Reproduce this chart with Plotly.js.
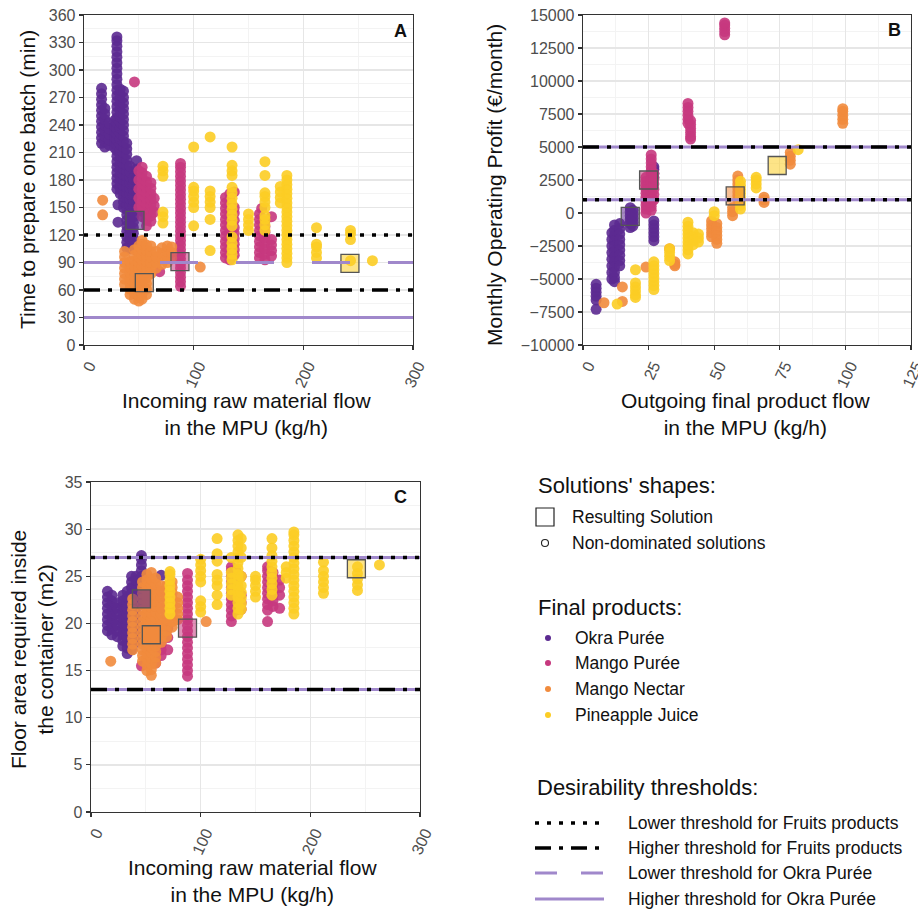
<!DOCTYPE html>
<html><head><meta charset="utf-8">
<script src="https://cdn.plot.ly/plotly-3.0.1.min.js"></script>
<style>html,body{margin:0;padding:0;background:#fff}#chart{width:918px;height:912px}</style>
</head><body><div id="chart"></div>
<script>
// ---------------- DATA ----------------
// Each product is stored as columns of solutions: one x value and the y values read along it.
const products = ["Okra Purée", "Mango Purée", "Mango Nectar", "Pineapple Juice"];

// Panel A: incoming raw material flow (kg/h) vs time to prepare one batch (min)
const okraA_x = [16, 19, 23, 28, 30, 31, 33, 36, 39, 42, 45, 48];
const okraA_y = [
  [220,226,232,238,244,250,256,262,268,274,280],
  [216,222,228,234,240,246,252,258],
  [218,224,230,236,242],
  [215,221,227,233,239,245],
  [170,176,182,188,194,200,206,212,218,224,230,236,242,248,254,260,266,272,278,284,290,296,302,308,314,320,326,332,336],
  [134,153],
  [165,171,177,183,189,195,201,207,213,219,225,231,237,243,249,255,261,267,273,279],
  [150,156,162,168,174,180,186,192,198,204,210,216,222,228,234,240,246,252,258,264,270,277],
  [106,112,118,124,130,136,142,148,154,160,166,172,178,184,190,196,202,208,214,220],
  [105,111,117,123,129,135,141,147,153,159,165,171,177,183,189,195],
  [110,116,122,128,134,140,146,152,158,164,170,176,182],
  [150,156,162,168,174,180,186,192,201]];

const pureeA_x = [46, 50, 53, 57, 61, 64, 69, 88, 129, 133, 137, 160, 162, 165, 171];
const pureeA_y = [
  [287],
  [150,160,170,180,190],
  [140,146,152,158,164,170,176,182,188,194],
  [130,136,142,148,154,160,166,172,178,184],
  [135,141,147,153,159,165,171,177],
  [145,152,160],
  [80],
  [64,69,74,79,84,89,94,99,104,109,114,119,124,129,134,139,144,149,154,159,164,169,174,179,184,189,194,198],
  [95,101,107,113,119,125,131,137,143,149,155,161],
  [93,99,105,111,117,123,129,135,141,147,153,159,165],
  [98,104,110,116,122,128,136,144,150,167],
  [95,101,107,113,119,125,131,137,143],
  [149],
  [93,99,105,111,117,123,129,135],
  [97,103,109,115,140]];

const nectarA_x = [17, 37, 42, 46, 50, 53, 57, 61, 66, 71, 76, 80, 106];
const nectarA_y = [
  [142,158],
  [66,72,78,84,90,96,102],
  [55,61,67,73,79,85,91],
  [50,56,62,68,74,80,86,92,98,104],
  [48,54,60,66,72,78,84,90,96,102,108],
  [50,56,62,68,74,80,86,92,98,104,110,114],
  [55,61,67,73,79,85,91,97,103,109],
  [78,84,90,96,102,108],
  [84,90,96,102],
  [88,94,100,106],
  [90,96,102,108],
  [95,101,107],
  [85]];

const pineA_x = [72, 100, 115, 135, 150, 165, 179, 185, 212, 243, 263];
const pineA_y = [
  [133,140,145,184,190,195],
  [130,150,156,162,168,172,216],
  [103,137,150,156,162,168,227],
  [93,99,105,111,118,130,136,142,148,154,160,166,172,185,190,196,216],
  [125,131,137,143],
  [125,131,137,141,150,156,162,166,185,200],
  [155,161,167,173],
  [90,95,100,105,110,115,120,125,130,135,140,145,150,155,160,165,170,175,180,185],
  [95,101,107,110,128],
  [92,115,121,125],
  [92]];

// Panel B: outgoing final product flow (kg/h) vs monthly operating profit (€/month)
const okraB_x = [5, 11, 12, 14, 18, 19, 27];
const okraB_y = [
  [-5400,-5700,-6000,-6300,-6600,-7300],
  [-1500,-2000,-2500,-3000,-3500,-4000,-4500,-5000],
  [-900,-1300,-1700,-2100,-2500,-2900,-3300,-3700,-4100,-4500,-4900,-5200],
  [-800,-1200,-1600,-2000,-2400,-2800,-3200,-3600,-4000],
  [400,100,-200,-500,-800,-1100],
  [200,-100,-400,-700,-1000],
  [-600,-900,-1200,-1500,-1800,-2100,2700,3000,3300,3500]];

const pureeB_x = [24, 26, 27, 40, 41, 54];
const pureeB_y = [
  [0,300,600,900,1200,1500,1800,2100,2400,2700],
  [200,500,800,1100,1400,1700,2000,2300,2600,2900,3200,3500,3800,4100,4400],
  [1000,1400,1800,2200,2600,3000],
  [8300,8000,7700,7400,7100,6800],
  [7000,6700,6400,6100,5800,5600],
  [13500,13750,14000,14250,14400]];

const nectarB_x = [8, 15, 24, 33, 35, 49, 51, 57, 59, 69, 79, 99];
const nectarB_y = [
  [-6800],
  [-6700,-5600],
  [-4100],
  [-2700],
  [-3700,-3900,-4000],
  [-600,-900,-1200,-1500,-1800],
  [-800,-1100,-1400,-1700,-2000,-2300],
  [-200,100,400],
  [1000,1300,1600,1900,2200,2500,2800],
  [800,1000,1200],
  [3700,4000,4300,4600],
  [6800,7100,7400,7700,7900]];

const pineB_x = [13, 20, 27, 33, 40, 42, 44, 50, 60, 66, 82];
const pineB_y = [
  [-6900],
  [-4300,-5300,-5600,-5900,-6200,-6400],
  [-3700,-4000,-4300,-4600,-4900,-5200,-5500,-5800],
  [-2700,-3000,-3300,-3600],
  [-700,-1000,-1300,-1600,-1900,-2200,-2500,-2800,-3100],
  [-1500,-1800,-2100,-2400],
  [-1600,-1900,-2200],
  [100,-200],
  [300,600,900,1200,1500,1800,2100,2400],
  [1900,2200,2500,2700],
  [4800]];

// Panel C: incoming raw material flow (kg/h) vs floor area required (m2)
const okraC_x = [15, 19, 24, 29, 33, 37, 41, 46, 64];
const okraC_y = [
  [19.2,19.8,20.4,21,21.6,22.2,22.8,23.4],
  [18.8,19.4,20,20.6,21.2,21.8,22.4,23],
  [18.6,19.2,19.8,20.4,21,21.6,22.2],
  [17.6,18.2,18.8,19.4,20,20.6,21.2,21.8,22.4,23],
  [16.8,17.4,18,18.6,19.2,19.8,20.4,21,21.6,22.2,22.8,23.4],
  [17.2,17.8,18.4,19,19.6,20.2,20.8,21.4,22,22.6,23.2,23.8,24.4,25],
  [18,18.6,19.2,19.8,20.4,21,21.6,22.2,22.8,23.4,24,24.6,25],
  [22,22.6,23.2,23.8,24.4,25,25.6,26.2,26.8,27.2],
  [25.1]];

const pureeC_x = [46, 59, 64, 70, 88, 128, 132, 137, 161, 166, 172];
const pureeC_y = [
  [15.5],
  [15.8,16.4,17,17.6,18.2,18.8,19.4,20],
  [16.6,17.2,17.8,18.4,19],
  [17.2,18.5,19.5],
  [14.4,15,15.6,16.2,16.8,17.4,18,18.6,19.2,19.8,20.4,21,21.6,22.2,22.8,23.4,24,24.6,25.3],
  [20.2,20.8,21.4,22,22.6,23.2,23.8,24.4,25,25.6,26],
  [21.4,22,22.6,23.2,23.8,24.4,25,25.6],
  [21.5,22.2,23,25],
  [20.2,21.4,22,22.6,23.2,23.8,24.4,25,25.6,26],
  [21.8,22.4,23,23.6,24.2,24.8,25.4],
  [21.6,23,23.8,24.6]];

const nectarC_x = [18, 38, 47, 51, 55, 59, 64, 69, 74, 79, 105];
const nectarC_y = [
  [16],
  [17.2,17.8,18.4,19,19.6,20.2,20.8,21.4,22,22.6],
  [16,16.6,17.2,17.8,18.4,19,19.6,20.2,20.8,21.4,22,22.6,23.2,23.8,24.4],
  [15,15.6,16.2,16.8,17.4,18,18.6,19.2,19.8,20.4,21,21.6,22.2,22.8,23.4,24,24.6,25.2],
  [14.5,15.1,15.7,16.3,16.9,17.5,18.1,18.7,19.3,19.9,20.5,21.1,21.7,22.3,22.9,23.5,24.1,24.7,25.4],
  [15.8,16.4,17,17.6,18.2,18.8,19.4,20,20.6,21.2,21.8,22.4,23,23.6,24.2,24.8],
  [18,18.6,19.2,19.8,20.4,21,21.6,22.2,22.8,23.4,24],
  [18.6,19.2,19.8,20.4,21,21.6,22.2,22.8,23.4,24],
  [19.6,20.2,20.8,21.4,22,22.6,23.2,23.8,24.4],
  [20.4,21,21.6,22.2,22.8],
  [20.2]];

const pineC_x = [72, 100, 115, 128, 134, 137, 150, 165, 178, 185, 212, 243, 263];
const pineC_y = [
  [21,21.6,22.2,22.8,23.4,24,24.6,25.2,25.5],
  [21.2,21.8,22.4,24.4,25,25.6,26.2,26.8],
  [22,23,24,24.6,25.2,26.6,27.4,29],
  [23,23.6,24.2,24.8,25.4,27],
  [21,21.6,22.2,22.8,23.4,24,24.6,25.2,25.8,26.4,27,27.6,28.2,28.8,29.4],
  [21.5,22.1,22.7,23.3,24,25,27,28,29],
  [22.8,23.4,24,24.6,25],
  [23,23.6,24.2,24.8,25.4,26,26.6,27.2,28,29],
  [24.8,25.4,26],
  [21,21.6,22.2,22.8,23.4,24,24.6,25.2,25.8,26.4,27,27.6,28.2,28.8,29.4,29.7],
  [23.2,23.8,24.4,25,25.6,26.5],
  [23.5,24.1,24.7,25.3,26],
  [26.2]];

// Resulting solutions (order: Okra Purée, Mango Purée, Mango Nectar, Pineapple Juice)
const resultA_x = [46.5, 87.5, 55, 242.5];
const resultA_y = [136, 91, 68, 89];
const resultB_x = [18, 25, 58, 74];
const resultB_y = [-250, 2500, 1300, 3600];
const resultC_x = [46, 88, 55, 242];
const resultC_y = [22.6, 19.5, 18.8, 25.8];

// Desirability thresholds per panel [A, B, C]
const fruitLow  = [120, 1000, 27];
const fruitHigh = [60, 5000, 13];
const okraLow   = [90, 1000, 27];
const okraHigh  = [30, 5000, 13];

// Tick labels of panel B's profit axis
const profitTicks = [-10000, -7500, -5000, -2500, 0, 2500, 5000, 7500, 10000, 12500, 15000];
const profitTickLabels = ["\u221210000", "\u22127500", "\u22125000", "\u22122500", "0", "2500", "5000", "7500", "10000", "12500", "15000"];

const panelLetters = ["A", "B", "C"];
const thresholdLabels = ["Lower threshold for Fruits products", "Higher threshold for Fruits products",
  "Lower threshold for Okra Purée", "Higher threshold for Okra Purée"];

// ---------------- BUILD ----------------
function flatten(xs, ys) {
  const fx = [], fy = [];
  xs.forEach((x, i) => ys[i].forEach(v => { fx.push(x); fy.push(v); }));
  return [fx, fy];
}

const W = 918, H = 912;
const px = x => x / W, py = y => 1 - y / H;
const FONT = '"Liberation Sans", Arial, Helvetica, sans-serif';
const COLORS = ['#5c2a91', '#c6387e', '#f18b3d', '#fccd25'];
const FILLS = ['rgba(92,42,145,0.55)', 'rgba(198,56,126,0.55)', 'rgba(241,139,61,0.55)', 'rgba(252,205,37,0.55)'];
const PURPLE = '#a088cb';

const panels = [
  {xa: 'x', ya: 'y', data: [flatten(okraA_x, okraA_y), flatten(pureeA_x, pureeA_y), flatten(nectarA_x, nectarA_y), flatten(pineA_x, pineA_y)], rx: resultA_x, ry: resultA_y},
  {xa: 'x2', ya: 'y2', data: [flatten(okraB_x, okraB_y), flatten(pureeB_x, pureeB_y), flatten(nectarB_x, nectarB_y), flatten(pineB_x, pineB_y)], rx: resultB_x, ry: resultB_y},
  {xa: 'x3', ya: 'y3', data: [flatten(okraC_x, okraC_y), flatten(pureeC_x, pureeC_y), flatten(nectarC_x, nectarC_y), flatten(pineC_x, pineC_y)], rx: resultC_x, ry: resultC_y}
];

const traces = [];
panels.forEach(p => {
  p.data.forEach((d, i) => {
    traces.push({type: 'scatter', mode: 'markers', x: d[0], y: d[1], xaxis: p.xa, yaxis: p.ya,
      name: products[i], showlegend: false, hoverinfo: 'skip',
      marker: {color: COLORS[i], size: 11, opacity: 0.9, line: {width: 0}}});
  });
  traces.push({type: 'scatter', mode: 'markers', x: p.rx, y: p.ry, xaxis: p.xa, yaxis: p.ya,
    showlegend: false, hoverinfo: 'skip',
    marker: {symbol: 'square', size: 18, color: FILLS, line: {color: '#555', width: 1.3}}});
});

function axis(extra) {
  return Object.assign({
    showline: true, linecolor: '#333', linewidth: 1.3, mirror: true,
    ticks: 'outside', ticklen: 4, tickwidth: 1.2, tickcolor: '#333',
    showgrid: true, gridcolor: '#e6e6e6', gridwidth: 1.3, zeroline: false,
    tickfont: {family: FONT, size: 16, color: '#4d4d4d'},
    tickformat: 'd', fixedrange: true
  }, extra);
}
function xax(dom, anchor, range, dtick, mdtick) {
  return axis({domain: dom, anchor: anchor, range: range, dtick: dtick, tick0: 0, tickangle: -65,
    ticklabelshift: 5, ticklabeloverflow: 'allow',
    minor: {dtick: mdtick, showgrid: true, gridcolor: '#f3f3f3', gridwidth: 1}});
}
function yax(dom, anchor, range, dtick, mdtick, extra) {
  return axis(Object.assign({domain: dom, anchor: anchor, range: range, dtick: dtick, tick0: 0,
    minor: {dtick: mdtick, showgrid: true, gridcolor: '#f3f3f3', gridwidth: 1}}, extra || {}));
}

const shapes = [];
const yrefs = ['y', 'y2', 'y3'], xrefs = ['x domain', 'x2 domain', 'x3 domain'];
for (let k = 0; k < 3; k++) {
  shapes.push({type: 'line', xref: xrefs[k], yref: yrefs[k], x0: 0, x1: 1, y0: okraHigh[k], y1: okraHigh[k],
    line: {color: PURPLE, width: 3}});
  shapes.push({type: 'line', xref: xrefs[k], yref: yrefs[k], x0: 0, x1: 1, y0: okraLow[k], y1: okraLow[k],
    line: {color: PURPLE, width: 3, dash: k === 0 ? '38px,38px' : 'solid'}});
  shapes.push({type: 'line', xref: xrefs[k], yref: yrefs[k], x0: 0, x1: 1, y0: fruitLow[k], y1: fruitLow[k],
    line: {color: '#000', width: 3.5, dash: '4px,8px'}});
  shapes.push({type: 'line', xref: xrefs[k], yref: yrefs[k], x0: 0, x1: 1, y0: fruitHigh[k], y1: fruitHigh[k],
    line: {color: '#000', width: 3.5, dash: '16px,8px,4px,8px'}});
}

// legend decorations
shapes.push({type: 'rect', xref: 'paper', yref: 'paper', x0: px(536), x1: px(554), y0: py(526), y1: py(508),
  line: {color: '#222', width: 1.2}, fillcolor: 'rgba(0,0,0,0)'});
shapes.push({type: 'circle', xref: 'paper', yref: 'paper', x0: px(541.5), x1: px(548.5), y0: py(546.5), y1: py(539.5),
  line: {color: '#222', width: 1.1}, fillcolor: 'rgba(0,0,0,0)'});
const prodY = [638, 663, 689, 715];
prodY.forEach((yy, i) => {
  shapes.push({type: 'circle', xref: 'paper', yref: 'paper', x0: px(545), x1: px(551), y0: py(yy + 3), y1: py(yy - 3),
    line: {width: 0}, fillcolor: COLORS[i]});
});
const thrY = [823, 848, 873, 899];
const thrStyles = [
  {color: '#000', width: 3.5, dash: '4px,8px'},
  {color: '#000', width: 3.5, dash: '16px,8px,4px,8px'},
  {color: PURPLE, width: 3, dash: '22px,24px'},
  {color: PURPLE, width: 3, dash: 'solid'}
];
thrY.forEach((yy, i) => {
  shapes.push({type: 'line', xref: 'paper', yref: 'paper', x0: px(535), x1: px(604), y0: py(yy), y1: py(yy), line: thrStyles[i]});
});

const ann = [];
function txt(t, x, y, size, opts) {
  ann.push(Object.assign({text: t, xref: 'paper', yref: 'paper', x: px(x), y: py(y), showarrow: false,
    xanchor: 'center', yanchor: 'middle', font: {family: FONT, size: size, color: '#111'}}, opts || {}));
}
// axis titles
txt('Time to prepare one batch (min)', 27, 180, 21, {textangle: -90});
txt('Incoming raw material flow<br>in the MPU (kg/h)', 246, 414, 21);
txt('Monthly Operating Profit (€/month)', 494, 185, 21, {textangle: -90});
txt('Outgoing final product flow<br>in the MPU (kg/h)', 745, 414, 21);
txt('Floor area required inside<br>the container (m2)', 32, 650, 21, {textangle: -90});
txt('Incoming raw material flow<br>in the MPU (kg/h)', 253, 881, 21);
// panel letters
txt('<b>' + panelLetters[0] + '</b>', 400, 31, 18);
txt('<b>' + panelLetters[1] + '</b>', 894, 30, 18);
txt('<b>' + panelLetters[2] + '</b>', 400, 497, 18);
// legend texts
txt("Solutions' shapes:", 536, 485, 22, {xanchor: 'left'});
txt('Resulting Solution', 570, 517, 17.5, {xanchor: 'left'});
txt('Non-dominated solutions', 570, 543, 17.5, {xanchor: 'left'});
txt('Final products:', 536, 607, 22, {xanchor: 'left'});
products.forEach((p, i) => txt(p, 573, prodY[i], 17.5, {xanchor: 'left'}));
txt('Desirability thresholds:', 535, 787, 22, {xanchor: 'left'});
thresholdLabels.forEach((t, i) => txt(t, 626, thrY[i], 17.5, {xanchor: 'left'}));

const layout = {
  width: W, height: H, margin: {l: 0, r: 0, t: 0, b: 0},
  paper_bgcolor: '#fff', plot_bgcolor: '#fff', showlegend: false,
  font: {family: FONT},
  xaxis: xax([px(84), px(413)], 'y', [0, 300], 100, 50),
  yaxis: yax([py(345), py(15)], 'x', [0, 360], 30, 15),
  xaxis2: xax([px(583), px(911)], 'y2', [0, 125], 25, 12.5),
  yaxis2: yax([py(345), py(15)], 'x2', [-10000, 15000], 2500, 1250,
    {tickmode: 'array', tickvals: profitTicks, ticktext: profitTickLabels}),
  xaxis3: xax([px(91), px(420)], 'y3', [0, 300], 100, 50),
  yaxis3: yax([py(812), py(482)], 'x3', [0, 35], 5, 2.5),
  shapes: shapes, annotations: ann
};
Plotly.newPlot('chart', traces, layout, {displayModeBar: false, staticPlot: true});
</script></body></html>
